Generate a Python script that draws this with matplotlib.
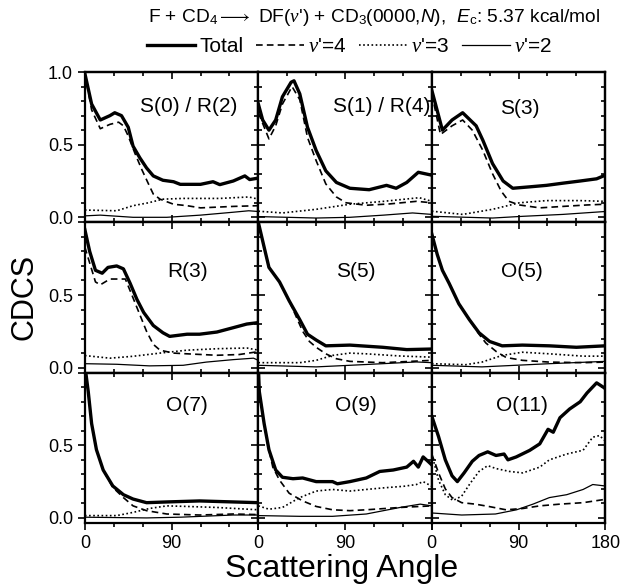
import matplotlib
matplotlib.use("Agg")
import matplotlib.pyplot as plt
from matplotlib.ticker import MultipleLocator

plt.rcParams['font.family'] = ['Liberation Sans', 'DejaVu Sans']
plt.rcParams['mathtext.fontset'] = 'custom'
plt.rcParams['mathtext.rm'] = 'Liberation Sans'
plt.rcParams['mathtext.it'] = 'Liberation Serif:italic'
plt.rcParams['mathtext.sf'] = 'Liberation Sans:italic'
plt.rcParams['mathtext.bf'] = 'Liberation Sans:bold'

# ---- data: (angle, CDCS) ----
s0r2 = {
    'total': ([0, 7, 16, 26, 31, 38, 45, 50, 57, 64, 71, 81, 92, 99, 120, 133, 140, 154, 166, 171, 180],
              [0.99, 0.78, 0.67, 0.70, 0.72, 0.70, 0.62, 0.49, 0.41, 0.34, 0.285, 0.255, 0.245, 0.227, 0.227, 0.245, 0.225, 0.25, 0.285, 0.26, 0.27]),
    'v4': ([0, 7, 16, 26, 35, 40, 45, 52, 59, 66, 71, 78, 92, 106, 120, 154, 180],
           [0.99, 0.74, 0.61, 0.64, 0.655, 0.63, 0.56, 0.44, 0.33, 0.23, 0.16, 0.125, 0.09, 0.08, 0.065, 0.075, 0.08]),
    'v3': ([0, 33, 50, 66, 81, 102, 140, 170, 180],
           [0.05, 0.045, 0.08, 0.10, 0.125, 0.13, 0.13, 0.14, 0.125]),
    'v2': ([0, 16, 50, 85, 120, 154, 170, 180],
           [0.01, 0.015, 0.0, 0.0, 0.015, 0.035, 0.045, 0.04]),
}
s1r4 = {
    'total': ([0, 4.5, 11, 18, 25, 34, 37, 43, 51, 60, 70, 81, 95, 115, 133, 143, 154, 166, 180],
              [0.78, 0.67, 0.60, 0.67, 0.83, 0.93, 0.94, 0.85, 0.62, 0.46, 0.32, 0.24, 0.20, 0.19, 0.22, 0.20, 0.24, 0.31, 0.29]),
    'v4': ([0, 11, 18, 25, 35, 43, 51, 60, 70, 81, 91, 112, 136, 164, 180],
           [0.72, 0.54, 0.63, 0.78, 0.90, 0.81, 0.55, 0.39, 0.23, 0.14, 0.10, 0.083, 0.092, 0.11, 0.10]),
    'v3': ([0, 25, 60, 95, 130, 167, 180],
           [0.042, 0.03, 0.055, 0.09, 0.11, 0.135, 0.11]),
    'v2': ([0, 60, 95, 130, 160, 180],
           [0.005, -0.005, 0.0, 0.015, 0.03, 0.02]),
}
s3 = {
    'total': ([0, 11, 21, 32, 46, 53, 63, 74, 84, 102, 119, 136, 154, 171, 180],
              [0.875, 0.60, 0.67, 0.72, 0.63, 0.53, 0.37, 0.25, 0.20, 0.21, 0.22, 0.235, 0.25, 0.265, 0.29]),
    'v4': ([0, 9, 21, 32, 42, 53, 63, 72, 80, 91, 112, 136, 161, 180],
           [0.85, 0.57, 0.63, 0.67, 0.60, 0.46, 0.30, 0.18, 0.11, 0.085, 0.065, 0.075, 0.085, 0.09]),
    'v3': ([0, 32, 63, 91, 119, 154, 180],
           [0.042, 0.02, 0.055, 0.10, 0.115, 0.115, 0.11]),
    'v2': ([0, 63, 95, 136, 180],
           [0.007, -0.005, 0.007, 0.02, 0.04]),
}
r3 = {
    'total': ([0, 5, 11, 18, 24, 33, 40, 47, 54, 61, 71, 81, 88, 106, 119, 137, 154, 168, 180],
              [0.95, 0.80, 0.67, 0.65, 0.69, 0.70, 0.68, 0.58, 0.47, 0.38, 0.29, 0.24, 0.215, 0.23, 0.23, 0.245, 0.275, 0.30, 0.31]),
    'v4': ([0, 11, 16, 26, 33, 42, 50, 57, 64, 71, 78, 92, 106, 137, 160, 180],
           [0.83, 0.59, 0.57, 0.61, 0.61, 0.61, 0.48, 0.365, 0.25, 0.16, 0.12, 0.10, 0.095, 0.085, 0.09, 0.11]),
    'v3': ([0, 26, 50, 78, 106, 137, 168, 180],
           [0.083, 0.065, 0.078, 0.10, 0.12, 0.13, 0.135, 0.12]),
    'v2': ([0, 33, 67, 102, 126, 154, 175, 180],
           [0.027, 0.023, 0.012, 0.016, 0.038, 0.055, 0.065, 0.05]),
}
s5 = {
    'total': ([0, 6, 11, 22, 32, 43, 51, 60, 70, 95, 129, 154, 180],
              [1.0, 0.83, 0.69, 0.59, 0.46, 0.33, 0.23, 0.19, 0.15, 0.155, 0.14, 0.124, 0.128]),
    'v4': ([0, 6, 11, 22, 32, 46, 53, 60, 70, 81, 95, 129, 180],
           [1.0, 0.83, 0.69, 0.59, 0.46, 0.25, 0.18, 0.14, 0.095, 0.061, 0.043, 0.034, 0.05]),
    'v3': ([0, 43, 60, 77, 95, 112, 147, 180],
           [0.034, 0.034, 0.05, 0.084, 0.10, 0.095, 0.08, 0.072]),
    'v2': ([0, 60, 95, 129, 164, 180],
           [0.016, 0.005, 0.016, 0.027, 0.039, 0.034]),
}
o5 = {
    'total': ([0, 5.6, 11, 18, 28, 39, 49, 60, 73, 94, 122, 150, 180],
              [0.92, 0.78, 0.67, 0.58, 0.44, 0.33, 0.24, 0.18, 0.15, 0.155, 0.15, 0.14, 0.15]),
    'v4': ([0, 5.6, 11, 18, 28, 39, 49, 56, 67, 77, 94, 122, 157, 180],
           [0.92, 0.78, 0.67, 0.58, 0.44, 0.33, 0.23, 0.17, 0.11, 0.07, 0.05, 0.038, 0.034, 0.038]),
    'v3': ([0, 35, 52, 73, 94, 122, 157, 180],
           [0.027, 0.02, 0.038, 0.084, 0.106, 0.095, 0.079, 0.079]),
    'v2': ([0, 52, 87, 122, 180],
           [0.016, 0.005, 0.016, 0.027, 0.043]),
}
o7 = {
    'total': ([0, 3.5, 7, 12, 19, 29, 40, 50, 64, 85, 119, 154, 180],
              [1.05, 0.87, 0.65, 0.47, 0.33, 0.22, 0.16, 0.13, 0.105, 0.11, 0.117, 0.11, 0.105]),
    'v4': ([0, 3.5, 7, 12, 19, 29, 40, 50, 64, 85, 119, 154, 180],
           [1.05, 0.87, 0.65, 0.47, 0.33, 0.21, 0.14, 0.083, 0.05, 0.027, 0.02, 0.027, 0.023]),
    'v3': ([0, 33, 50, 67, 85, 106, 137, 180],
           [0.016, 0.016, 0.038, 0.065, 0.083, 0.079, 0.072, 0.056]),
    'v2': ([0, 64, 99, 154, 180],
           [0.005, 0.0, 0.005, 0.02, 0.02]),
}
o9 = {
    'total': ([0, 1, 6, 11, 18, 25, 36, 46, 60, 77, 82, 95, 112, 126, 140, 154, 161, 166, 171, 176, 180],
              [1.05, 0.87, 0.65, 0.47, 0.33, 0.28, 0.27, 0.275, 0.25, 0.25, 0.235, 0.25, 0.275, 0.32, 0.33, 0.35, 0.39, 0.35, 0.42, 0.39, 0.365]),
    'v4': ([0, 1, 6, 11, 15, 22, 32, 46, 60, 77, 95, 112, 147, 180],
           [1.05, 0.87, 0.65, 0.47, 0.35, 0.26, 0.17, 0.117, 0.079, 0.056, 0.05, 0.056, 0.072, 0.083]),
    'v3': ([0, 11, 25, 43, 60, 77, 95, 112, 130, 151, 164, 171, 180],
           [0.083, 0.06, 0.072, 0.14, 0.185, 0.196, 0.185, 0.196, 0.207, 0.218, 0.23, 0.25, 0.218]),
    'v2': ([0, 43, 77, 112, 147, 168, 180],
           [0.016, 0.011, 0.011, 0.027, 0.072, 0.095, 0.083]),
}
o11 = {
    'total': ([0, 7, 14, 21, 26.5, 33.5, 42, 49, 58, 66.6, 75, 79, 87.6, 101.5, 112, 120.6, 126, 133, 143, 154, 161, 171, 178, 180],
              [0.70, 0.56, 0.40, 0.29, 0.25, 0.31, 0.39, 0.43, 0.455, 0.43, 0.44, 0.40, 0.42, 0.465, 0.51, 0.61, 0.59, 0.69, 0.75, 0.80, 0.86, 0.93, 0.90, 0.89]),
    'v4': ([0, 7, 14, 21, 31, 45, 59, 77, 94.5, 112, 133, 157, 180],
           [0.44, 0.31, 0.20, 0.14, 0.105, 0.095, 0.079, 0.056, 0.065, 0.083, 0.095, 0.105, 0.128]),
    'v3': ([0, 7, 14, 22, 31, 40, 49, 58, 66.6, 80.6, 94.5, 112, 122, 140, 157, 167, 174, 180],
           [0.44, 0.26, 0.16, 0.12, 0.15, 0.24, 0.32, 0.36, 0.34, 0.32, 0.31, 0.35, 0.40, 0.44, 0.466, 0.556, 0.567, 0.53]),
    'v2': ([0, 31, 66, 88, 105, 122, 140, 157, 167, 180],
           [0.034, 0.02, 0.027, 0.056, 0.095, 0.14, 0.16, 0.196, 0.23, 0.22]),
}

panels = [s0r2, s1r4, s3, r3, s5, o5, o7, o9, o11]
names = ['S(0) / R(2)', 'S(1) / R(4)', 'S(3)', 'R(3)', 'S(5)', 'O(5)', 'O(7)', 'O(9)', 'O(11)']
label_pos = [(0.60, 0.77), (0.71, 0.77), (0.51, 0.76),
             (0.59, 0.67), (0.56, 0.67), (0.52, 0.67),
             (0.59, 0.78), (0.56, 0.78), (0.52, 0.78)]

styles = {
    'total': dict(color='black', lw=2.4, ls='-'),
    'v4': dict(color='black', lw=1.2, ls=(0, (4, 2.5))),
    'v3': dict(color='black', lw=1.2, ls=(0, (1, 1.5))),
    'v2': dict(color='black', lw=0.9, ls='-'),
}
leg_labels = {'total': 'Total', 'v4': "$v$'=4", 'v3': "$v$'=3", 'v2': "$v$'=2"}

fig, axes = plt.subplots(3, 3, figsize=(6.24, 5.86), dpi=100)
fig.subplots_adjust(left=0.136, right=0.970, top=0.877, bottom=0.1075, wspace=0, hspace=0)

for i, ax in enumerate(axes.flat):
    row, col = divmod(i, 3)
    data = panels[i]
    for key in ['total', 'v4', 'v3', 'v2']:
        xs, ys = data[key]
        ax.plot(xs, ys, label=leg_labels[key], **styles[key])
    ax.set_xlim(0, 180)
    ax.set_ylim(-0.035, 1.0)
    ax.text(label_pos[i][0], label_pos[i][1], names[i], transform=ax.transAxes,
            ha='center', va='center', fontsize=15)
    for s in ax.spines.values():
        s.set_linewidth(1.6)

    ax.set_xticks([0, 90, 180])
    ax.xaxis.set_minor_locator(MultipleLocator(30))
    ax.set_yticks([0, 0.5, 1.0])
    ax.yaxis.set_minor_locator(MultipleLocator(0.1))
    ax.tick_params(axis='x', which='both', direction='out' if row == 2 else 'in',
                   labelbottom=(row == 2), labelsize=13, width=1.2)
    ax.tick_params(axis='y', which='both', direction='out' if col == 0 else 'in',
                   labelleft=(col == 0), labelsize=13, width=1.2)
    ax.tick_params(which='major', length=5)
    ax.tick_params(which='minor', length=3)
    if row == 2:
        ax.set_xticklabels(['0', '90', '180' if col == 2 else ''])
    if col == 0:
        ax.set_yticklabels(['0.0', '0.5', '1.0' if row == 0 else ''])

    top = ax.secondary_xaxis('top')
    top.set_xticks([0, 90, 180])
    top.xaxis.set_minor_locator(MultipleLocator(30))
    top.tick_params(which='both', direction='in', labeltop=False, width=1.2)
    top.tick_params(which='major', length=5)
    top.tick_params(which='minor', length=3)
    top.spines['top'].set_linewidth(1.6)
    right = ax.secondary_yaxis('right')
    right.set_yticks([0, 0.5, 1.0])
    right.yaxis.set_minor_locator(MultipleLocator(0.1))
    right.tick_params(which='both', direction='in', labelright=False, width=1.2)
    right.tick_params(which='major', length=5)
    right.tick_params(which='minor', length=3)
    right.spines['right'].set_linewidth(1.6)

handles, labels = axes[0, 0].get_legend_handles_labels()
fig.legend(handles, labels, loc='center', bbox_to_anchor=(0.56, 1 - 47 / 586), ncol=4,
           frameon=False, fontsize=15, handlelength=2.3, handletextpad=0.2,
           columnspacing=0.6, borderaxespad=0)

title = (r"F + CD$_4$$\longrightarrow$ DF($v$') + CD$_3$(0000,$\mathsf{N}$),  "
         r"$\mathsf{E}_\mathrm{c}$: 5.37 kcal/mol")
fig.text(374 / 624, 1 - 17 / 586, title, ha='center', va='center', fontsize=13.8)

fig.text(25 / 624, 1 - 297 / 586, 'CDCS', rotation=90, ha='center', va='center', fontsize=22)
fig.text(342 / 624, 1 - 577 / 586, 'Scattering Angle', ha='center', va='baseline', fontsize=23)

fig.savefig('out.png', dpi=100)
